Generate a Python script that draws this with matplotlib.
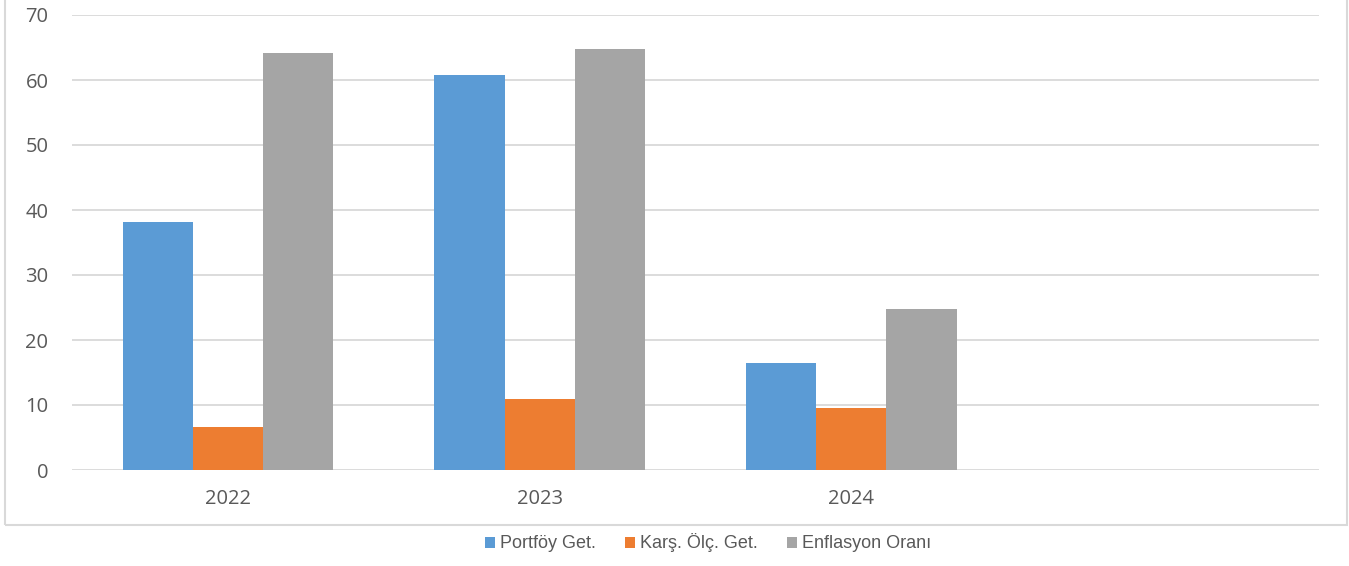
import numpy as np
import matplotlib.pyplot as plt
from matplotlib.patches import Rectangle

years = ['2022', '2023', '2024', '']
portfoy = [38.2, 60.8, 16.5]
kars = [6.6, 10.9, 9.6]
enflasyon = [64.2, 64.8, 24.7]
labels = ['Portföy Get.', 'Karş. Ölç. Get.', 'Enflasyon Oranı']
colors = ['#5B9BD5', '#ED7D31', '#A5A5A5']

plt.rcParams['font.family'] = ['Open Sans', 'DejaVu Sans']

W, H = 1349, 566
fig = plt.figure(figsize=(W/100, H/100), dpi=100)
ax = fig.add_axes([72/W, 1-470/H, (1319-72)/W, (470-15)/H])

x = np.arange(3)
bw = 0.225
bars = []
for i, (vals, c) in enumerate(zip([portfoy, kars, enflasyon], colors)):
    b = ax.bar(x + (i-1)*bw, vals, bw, color=c, label=labels[i], zorder=3)
    bars.append(b)

ax.set_xlim(-0.5, 3.5)
ax.set_ylim(0, 70)
ax.set_yticks(range(0, 71, 10))
ax.set_xticks(range(4))
ax.set_xticklabels(years)
ax.yaxis.grid(True, color='#d9d9d9', linewidth=1.3, zorder=0)
for s in ax.spines.values():
    s.set_visible(False)
ax.tick_params(length=0, labelsize=14.5, labelcolor='#595959')
ax.tick_params(axis='y', pad=17)
ax.tick_params(axis='x', pad=14)

# outer chart border
fig.patches.append(Rectangle((5/W, 1-525/H), (1347-5)/W, 525/H + 0.01,
                             transform=fig.transFigure, fill=False,
                             edgecolor='#d9d9d9', linewidth=1.5))

leg = fig.legend(handles=bars, labels=labels, loc='center',
                 bbox_to_anchor=(708/W, 1-543/H), ncol=3, frameon=False,
                 handlelength=0.55, handleheight=0.55, handletextpad=0.3,
                 columnspacing=1.6, prop={'family': 'Liberation Sans', 'size': 13})
for t in leg.get_texts():
    t.set_color('#595959')

fig.savefig('out.png', dpi=100)
